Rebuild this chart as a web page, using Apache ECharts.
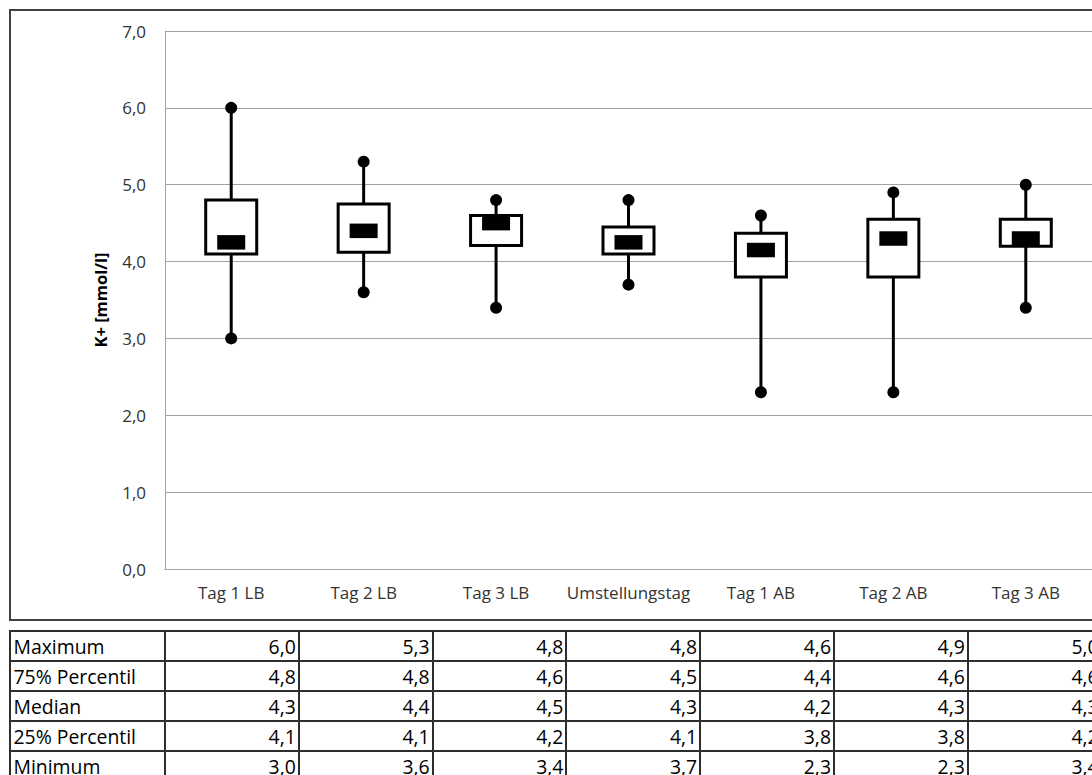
<!DOCTYPE html>
<html><head><meta charset="utf-8">
<script src="https://cdn.jsdelivr.net/npm/echarts@6/dist/echarts.min.js"></script>
<style>
html,body{margin:0;padding:0;background:#fff;width:1092px;height:775px;overflow:hidden;}
#chart{position:absolute;left:0;top:0;width:1092px;height:630px;}
#table{position:absolute;left:0;top:0;width:1092px;height:775px;overflow:hidden;}
.cell{position:absolute;box-sizing:border-box;border:2px solid #2e2e2e;font-family:'Open Sans';font-size:19.4px;color:#000;line-height:26.5px;padding-top:2px;white-space:nowrap;overflow:hidden;}
.lab{text-align:left;padding-left:2.5px;}
.num{text-align:right;padding-right:2px;}
</style></head><body>
<div id="chart"></div><div id="table"></div>
<script>
const categories = ['Tag 1 LB','Tag 2 LB','Tag 3 LB','Umstellungstag','Tag 1 AB','Tag 2 AB','Tag 3 AB'];
const maximum = [6.0, 5.3, 4.8, 4.8, 4.6, 4.9, 5.0];
const q3      = [4.8, 4.75, 4.6, 4.45, 4.37, 4.55, 4.55];
const median  = [4.25, 4.4, 4.5, 4.25, 4.15, 4.3, 4.3];
const q1      = [4.1, 4.12, 4.21, 4.1, 3.8, 3.8, 4.2];
const minimum = [3.0, 3.6, 3.4, 3.7, 2.3, 2.3, 3.4];
const rowLabels = ['Maximum','75% Percentil','Median','25% Percentil','Minimum'];
const yTicks = [0,1,2,3,4,5,6,7];

const fmt = v => (Math.round(v*10 + 1e-6)/10).toFixed(1).replace('.', ',');

const chart = echarts.init(document.getElementById('chart'), null, {renderer:'svg'});
const boxData = categories.map((c,i)=>[i, minimum[i], q1[i], median[i], q3[i], maximum[i]]);
const gridColor = '#a3a3a3';
chart.setOption({
  animation:false,
  grid:{left:165, top:31, width:927, height:538},
  xAxis:{type:'category', data:categories,
    axisLine:{show:true, lineStyle:{color:gridColor, width:1}},
    axisTick:{show:false},
    axisLabel:{interval:0, margin:15, color:'#333', fontFamily:'Open Sans', fontSize:17},
    splitLine:{show:false}},
  yAxis:{type:'value', min:yTicks[0], max:yTicks[yTicks.length-1], interval:1,
    axisLine:{show:true, lineStyle:{color:gridColor, width:1}},
    axisTick:{show:false},
    axisLabel:{margin:19, formatter:v=>v.toFixed(1).replace('.', ','), color:'#333', fontFamily:'Open Sans', fontSize:17},
    splitLine:{lineStyle:{color:gridColor, width:1}}},
  graphic:[
    {type:'rect', silent:true, z:-10, shape:{x:10, y:10, width:1300, height:610}, style:{fill:'none', stroke:'#404040', lineWidth:2}},
    {type:'text', silent:true, x:100, y:300, rotation:Math.PI/2,
      style:{text:'K+ [mmol/l]', fontFamily:'Open Sans', fontWeight:'bold', fontSize:16.5, fill:'#000',
        align:'center', verticalAlign:'middle', textAlign:'center', textVerticalAlign:'middle'}}
  ],
  series:[{
    type:'custom', data:boxData, encode:{x:0, y:[1,2,3,4,5]},
    renderItem:(params, api)=>{
      const i = api.value(0);
      const pMin = api.coord([i, api.value(1)]);
      const pQ1 = api.coord([i, api.value(2)]);
      const pMed = api.coord([i, api.value(3)]);
      const pQ3 = api.coord([i, api.value(4)]);
      const pMax = api.coord([i, api.value(5)]);
      const x = pMin[0];
      const bw = 51, mw = 28, mh = 14.5, r = 6;
      return {type:'group', children:[
        {type:'line', shape:{x1:x, y1:pMax[1], x2:x, y2:pMin[1]}, style:{stroke:'#000', lineWidth:3}},
        {type:'circle', shape:{cx:x, cy:pMax[1], r:r}, style:{fill:'#000'}},
        {type:'circle', shape:{cx:x, cy:pMin[1], r:r}, style:{fill:'#000'}},
        {type:'rect', shape:{x:x-bw/2, y:pQ3[1], width:bw, height:pQ1[1]-pQ3[1]}, style:{fill:'#fff', stroke:'#000', lineWidth:3}},
        {type:'rect', shape:{x:x-mw/2, y:pMed[1]-mh/2, width:mw, height:mh}, style:{fill:'#000'}}
      ]};
    }
  }]
});

// data table below the chart
const rows = [maximum, q3, median, q1, minimum];
const colX = [10,165,298.8,432.6,566.4,700.2,834,967.8,1101.6];
const rowY = [631,661,691,721,751,781];
const tbl = document.getElementById('table');
rows.forEach((arr, r)=>{
  const cells = [rowLabels[r]].concat(arr.map(fmt));
  cells.forEach((t, c)=>{
    const d = document.createElement('div');
    d.className = 'cell ' + (c===0 ? 'lab' : 'num');
    d.style.left = (colX[c]-1) + 'px';
    d.style.top = (rowY[r]-1) + 'px';
    d.style.width = (colX[c+1]-colX[c]+2) + 'px';
    d.style.height = (rowY[r+1]-rowY[r]+2) + 'px';
    d.textContent = t;
    tbl.appendChild(d);
  });
});
</script>
</body></html>
